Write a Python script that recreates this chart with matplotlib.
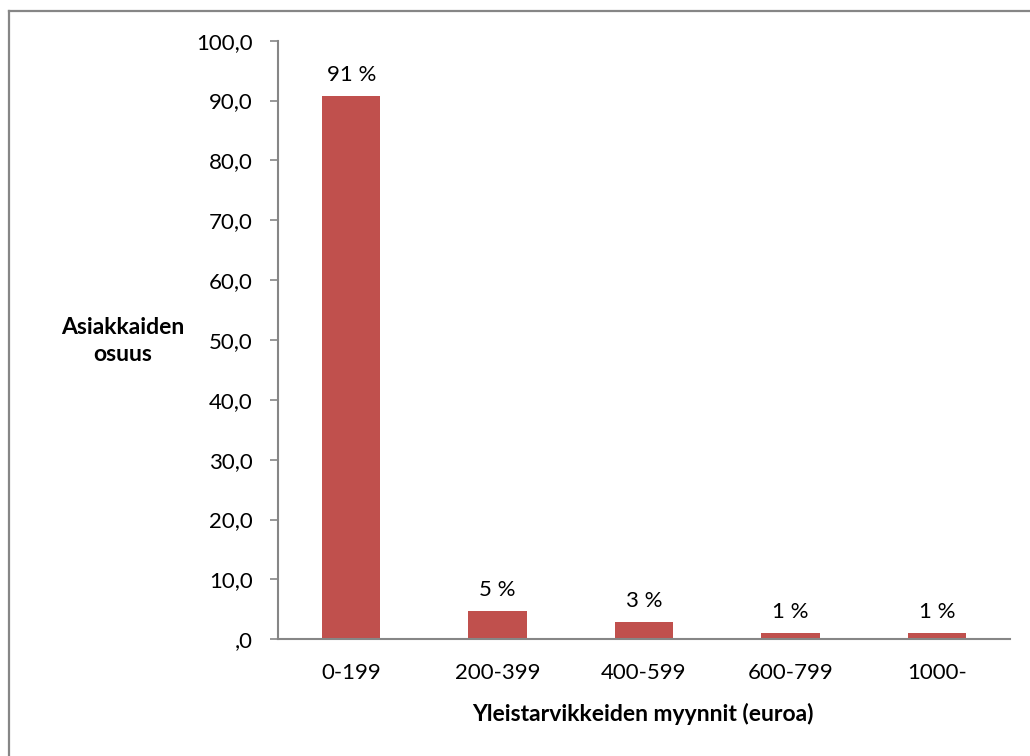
import matplotlib.pyplot as plt
from matplotlib.ticker import FuncFormatter, MultipleLocator
from matplotlib.lines import Line2D

plt.rcParams['font.family'] = ['Lato', 'DejaVu Sans']

categories = ["0-199", "200-399", "400-599", "600-799", "1000-"]
values = [90.8, 4.7, 2.9, 1.0, 1.0]
labels = ["91 %", "5 %", "3 %", "1 %", "1 %"]

FS = 16

fig = plt.figure(figsize=(10.30, 7.56), dpi=100)
ax = fig.add_axes([278/1030, (756-639.3)/756, 732/1030, (639.3-40.7)/756])

x = range(len(categories))
bars = ax.bar(x, values, width=0.4, color="#C0504D")
for xi, v, lab in zip(x, values, labels):
    ax.annotate(lab, (xi, v), xytext=(0, 8), textcoords="offset points",
                ha="center", va="bottom", fontsize=FS)

ax.set_xlim(-0.5, len(categories) - 0.5)
ax.set_ylim(0, 100)
ax.yaxis.set_major_locator(MultipleLocator(10))

def fmt(v, pos):
    s = f"{v:.1f}".replace(".", ",")
    return ",0" if v == 0 else s
ax.yaxis.set_major_formatter(FuncFormatter(fmt))

ax.set_xticks(list(x))
ax.set_xticklabels(categories)
ax.tick_params(axis="x", length=0, pad=17, labelsize=FS)
ax.tick_params(axis="y", length=6, width=1.2, color="#868686", pad=12, labelsize=FS)

for s in ["top", "right"]:
    ax.spines[s].set_visible(False)
for s in ["left", "bottom"]:
    ax.spines[s].set_color("#868686")
    ax.spines[s].set_linewidth(1.5)

fig.text(643/1030, 1 - 714/756, "Yleistarvikkeiden myynnit (euroa)",
         ha="center", va="center", fontsize=FS + 0.5, fontweight="bold")
fig.text(123/1030, 1 - 341/756, "Asiakkaiden\nosuus", ha="center", va="center",
         fontsize=FS + 0.5, fontweight="bold", linespacing=1.3)

# chart area border (left and top only visible)
fig.add_artist(Line2D([8.5/1030, 8.5/1030], [0, 1 - 10.5/756], color="#868686", lw=1.6,
                      transform=fig.transFigure))
fig.add_artist(Line2D([8.5/1030, 1], [1 - 10.5/756, 1 - 10.5/756], color="#868686", lw=1.6,
                      transform=fig.transFigure))

fig.savefig("out.png", dpi=100)
